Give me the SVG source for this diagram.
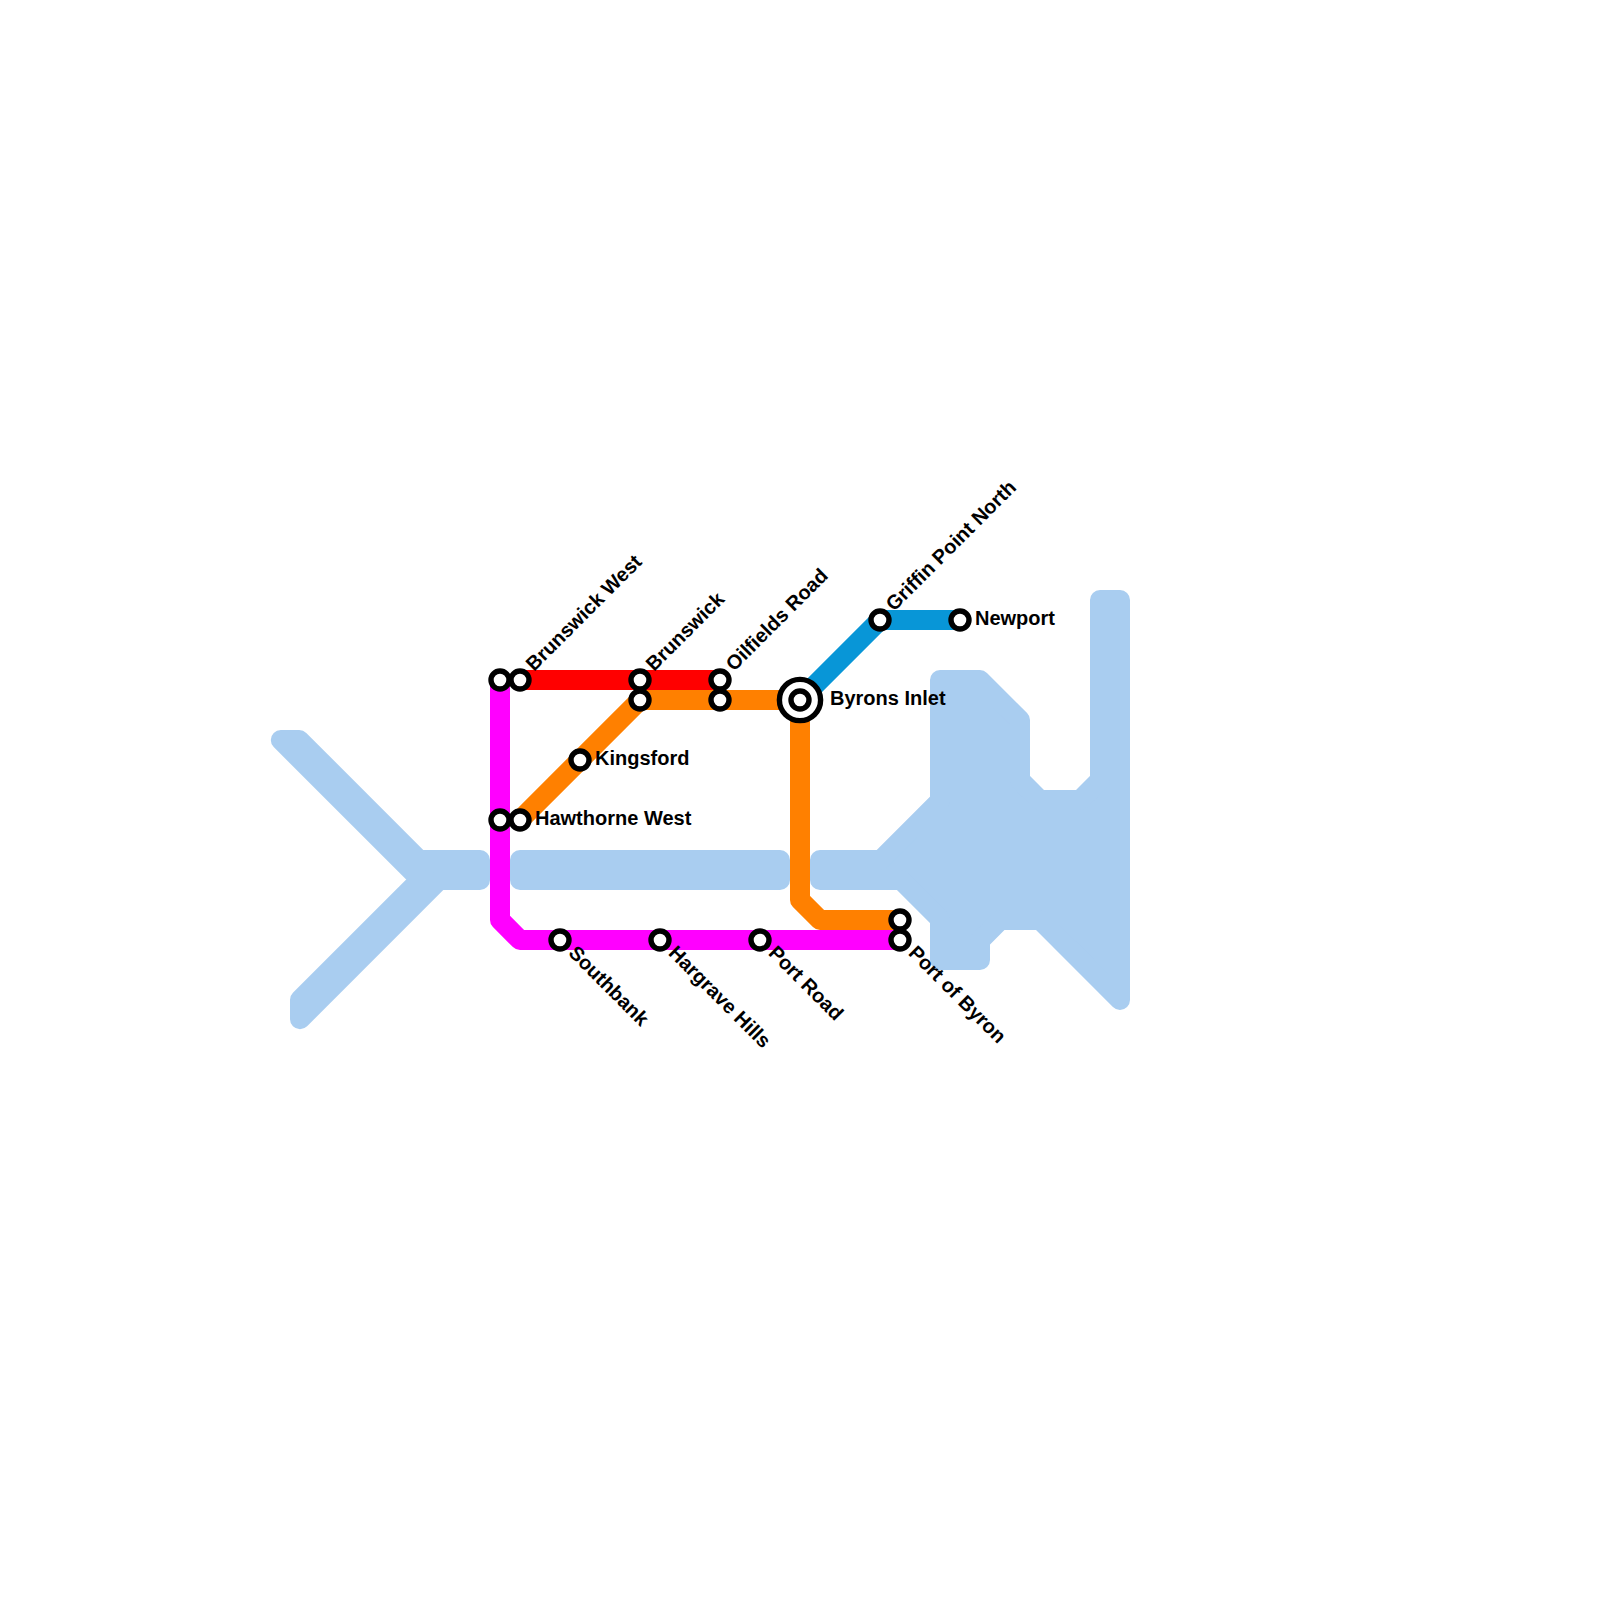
<svg xmlns="http://www.w3.org/2000/svg" width="1600" height="1600" viewBox="0 0 1600 1600">
<style>
.water{fill:#a9cdf0;stroke:#a9cdf0;stroke-width:20;stroke-linejoin:round}
.line{fill:none;stroke-width:20;stroke-linejoin:round;stroke-linecap:butt}
.st{fill:#fff;stroke:#000;stroke-width:5.4}
.ring{fill:#fff;stroke:#000;stroke-width:5.4}
text{font-family:"Liberation Sans",Arial,sans-serif;font-weight:bold;font-size:20px;fill:#000}
</style>
<rect width="1600" height="1600" fill="#fff"/>
<g id="water">
<polygon class="water" points="280.8,740 299.2,740 419.2,860 480,860 480,880 439.2,880 300,1019.2 300,999.8 420.3,879.5"/>
<rect class="water" x="520" y="860" width="260" height="20"/>
<polygon class="water" points="820,860 880.8,860 940,800.8 940,680 979.9,680 1020,720.1 1020,780.1 1039.9,800 1080.1,800 1100,780.1 1100,600 1120,600 1120,999.9 1040.1,920 1000.4,920 980,940.4 980,960 940,960 940,919 901,880 820,880"/>
</g>
<g id="connectors">
<path class="line" stroke="#0896d7" d="M800 700L880 620H960"/>
<path class="line" stroke="#ff0000" d="M520 680H720"/>
<path class="line" stroke="#ff00ff" d="M500 680V920L520 940H900"/>
<path class="line" stroke="#ff8000" d="M520 820L640 700H800V900L820 920H900"/>
</g>
<g id="brunswick-west-1"><circle class="st" cx="500" cy="680" r="9"/></g>
<g id="brunswick-west"><circle class="st" cx="520" cy="680" r="9"/><text transform="translate(534 672) rotate(-45)">Brunswick West</text></g>
<g id="brunswick"><circle class="st" cx="640" cy="680" r="9"/><text transform="translate(654 672) rotate(-45)">Brunswick</text></g>
<g id="brunswick-2"><circle class="st" cx="640" cy="700" r="9"/></g>
<g id="oilfields-road"><circle class="st" cx="720" cy="680" r="9"/><text transform="translate(734 672) rotate(-45)">Oilfields Road</text></g>
<g id="oilfields-road-2"><circle class="st" cx="720" cy="700" r="9"/></g>
<g id="kingsford"><circle class="st" cx="580" cy="760" r="9"/><text x="595" y="765">Kingsford</text></g>
<g id="hawthorne-west-1"><circle class="st" cx="500" cy="820" r="9"/></g>
<g id="hawthorne-west"><circle class="st" cx="520" cy="820" r="9"/><text x="535" y="825">Hawthorne West</text></g>
<g id="southbank"><circle class="st" cx="560" cy="940" r="9"/><text transform="translate(567.5 954) rotate(45)">Southbank</text></g>
<g id="hargrave-hills"><circle class="st" cx="660" cy="940" r="9"/><text transform="translate(667.5 954) rotate(45)">Hargrave Hills</text></g>
<g id="port-road"><circle class="st" cx="760" cy="940" r="9"/><text transform="translate(767.5 954) rotate(45)">Port Road</text></g>
<g id="port-of-byron-2"><circle class="st" cx="900" cy="920" r="9"/></g>
<g id="port-of-byron"><circle class="st" cx="900" cy="940" r="9"/><text transform="translate(907.5 954) rotate(45)">Port of Byron</text></g>
<g id="griffin-point-north"><circle class="st" cx="880" cy="620" r="9"/><text transform="translate(894 612) rotate(-45)">Griffin Point North</text></g>
<g id="newport"><circle class="st" cx="960" cy="620" r="9"/><text x="975" y="625">Newport</text></g>
<g id="byrons-inlet"><circle class="ring" cx="800" cy="700" r="20.6"/><circle class="st" cx="800" cy="700" r="9"/><text x="830" y="705">Byrons Inlet</text></g>
</svg>
